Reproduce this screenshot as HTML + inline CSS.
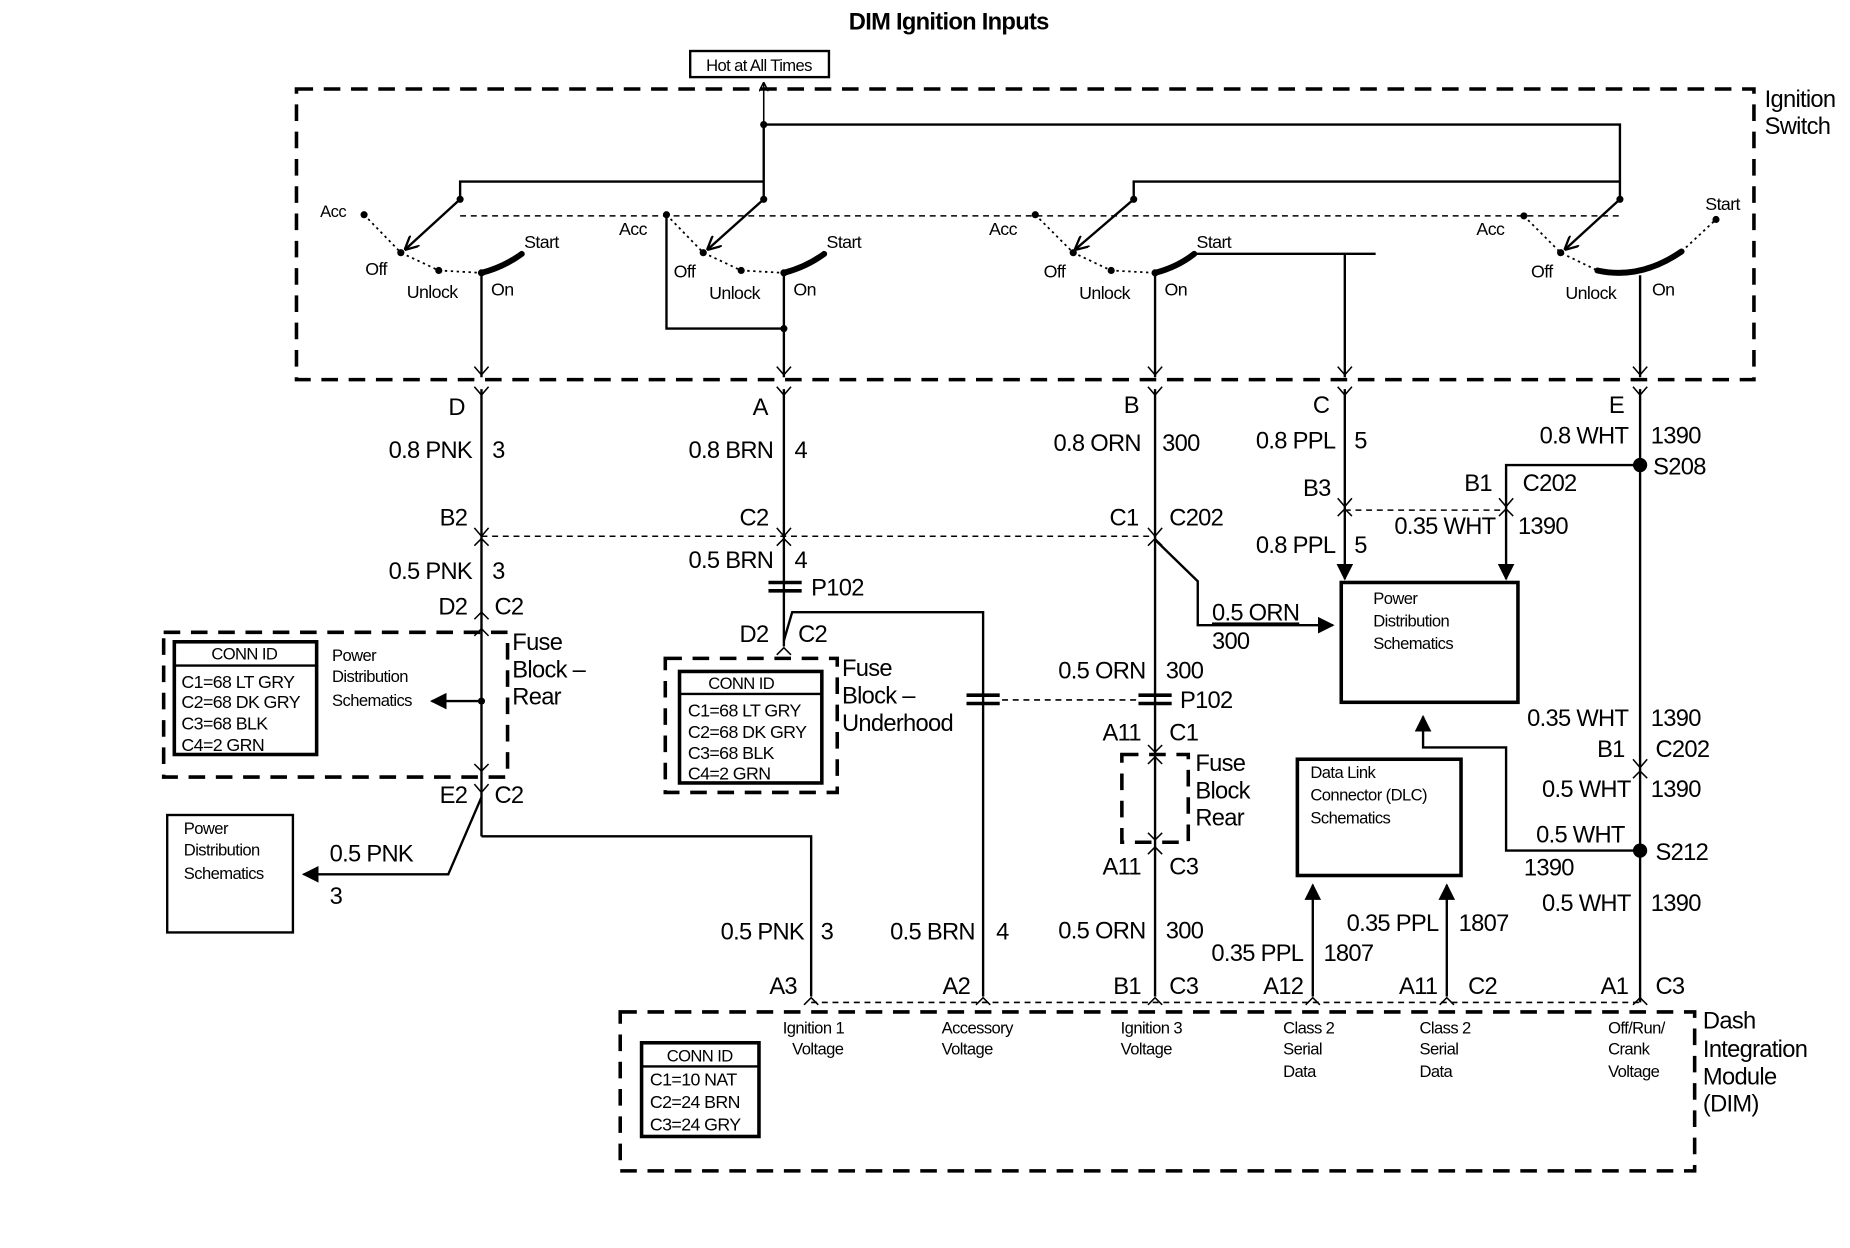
<!DOCTYPE html>
<html><head><meta charset="utf-8"><style>
html,body{margin:0;padding:0;background:#fff}
svg{display:block}
text{font-family:"Liberation Sans",Arial,sans-serif;fill:#000}
.l{font-size:20px;letter-spacing:-0.6px}
.s{font-size:14px;letter-spacing:-0.5px}
.m{font-size:15px;letter-spacing:-0.5px}
.w{stroke:#000;stroke-width:2;fill:none}
.t{stroke:#000;stroke-width:1.3;fill:none}
.dbox{stroke:#000;stroke-width:3;fill:none;stroke-dasharray:14 9}
.dl{stroke:#000;stroke-width:1.3;fill:none;stroke-dasharray:5 4}
.dot{stroke:#000;stroke-width:1.5;fill:none;stroke-dasharray:2 3}
</style></head><body>
<svg width="1850" height="1248" viewBox="0 0 1560 1052" preserveAspectRatio="none" xmlns="http://www.w3.org/2000/svg">
<defs>
<marker id="fa" viewBox="0 0 10 10" refX="9" refY="5" markerWidth="7" markerHeight="7" orient="auto-start-reverse"><path d="M0,0 L10,5 L0,10 z" fill="#000"/></marker>
<marker id="oa" viewBox="0 0 10 10" refX="9" refY="5" markerWidth="6" markerHeight="6" orient="auto-start-reverse"><path d="M0,0 L10,5 L0,10" fill="none" stroke="#000" stroke-width="1.6"/></marker>
</defs>
<text x="800" y="25" text-anchor="middle" style="font-size:20px;font-weight:bold;letter-spacing:-0.6px">DIM Ignition Inputs</text>
<rect x="582" y="43" width="117" height="22" class="w"/>
<text x="640" y="60" text-anchor="middle" class="s">Hot at All Times</text>
<line x1="644" y1="105" x2="644" y2="70" class="t" marker-end="url(#oa)"/>

<rect x="250" y="75" width="1229" height="245" class="dbox"/>
<text x="1488" y="90" class="l">Ignition</text><text x="1488" y="113" class="l">Switch</text>

<path d="M644,105 H1366 V168 M388,168 V153 H644 V168 M956,168 V153 H1366 M644,105 V168" class="w"/>
<g fill="#000"><circle cx="644" cy="105" r="3"/><circle cx="388" cy="168" r="3"/><circle cx="644" cy="168" r="3"/><circle cx="956" cy="168" r="3"/><circle cx="1366" cy="168" r="3"/><circle cx="661" cy="277" r="3"/></g>
<line x1="388" y1="168" x2="342" y2="210" class="w" marker-end="url(#oa)"/>
<line x1="644" y1="168" x2="597" y2="210" class="w" marker-end="url(#oa)"/>
<line x1="956" y1="168" x2="907" y2="210" class="w" marker-end="url(#oa)"/>
<line x1="1366" y1="168" x2="1320" y2="210" class="w" marker-end="url(#oa)"/>
<line x1="388" y1="182" x2="1366" y2="182" class="dl"/>

<!-- switch 1 -->
<path d="M307,181 L338,213 L370,228 L406,230" class="dot"/>
<path d="M406,230 Q425,225 440,214" stroke="#000" stroke-width="5" fill="none" stroke-linecap="round"/>
<g fill="#000"><circle cx="307" cy="181" r="3"/><circle cx="338" cy="213" r="3"/><circle cx="370" cy="228" r="3"/><circle cx="406" cy="230" r="3"/></g>
<text x="270" y="183" class="s">Acc</text><text x="308" y="232" class="m">Off</text><text x="343" y="251" class="m">Unlock</text><text x="414" y="249" class="m">On</text><text x="442" y="209" class="m">Start</text>
<!-- switch 2 -->
<path d="M562,181 L593,213 L625,228 L661,230" class="dot"/>
<path d="M661,230 Q680,225 695,214" stroke="#000" stroke-width="5" fill="none" stroke-linecap="round"/>
<g fill="#000"><circle cx="562" cy="181" r="3"/><circle cx="593" cy="213" r="3"/><circle cx="625" cy="228" r="3"/><circle cx="661" cy="230" r="3"/></g>
<text x="522" y="198" class="m">Acc</text><text x="568" y="234" class="m">Off</text><text x="598" y="252" class="m">Unlock</text><text x="669" y="249" class="m">On</text><text x="697" y="209" class="m">Start</text>
<path d="M562,181 V277 H661" class="w"/>
<!-- switch 3 -->
<path d="M873,181 L905,213 L937,228 L974,230" class="dot"/>
<path d="M974,230 Q993,225 1007,214" stroke="#000" stroke-width="5" fill="none" stroke-linecap="round"/>
<g fill="#000"><circle cx="873" cy="181" r="3"/><circle cx="905" cy="213" r="3"/><circle cx="937" cy="228" r="3"/><circle cx="974" cy="230" r="3"/></g>
<text x="834" y="198" class="m">Acc</text><text x="880" y="234" class="m">Off</text><text x="910" y="252" class="m">Unlock</text><text x="982" y="249" class="m">On</text><text x="1009" y="209" class="m">Start</text>
<path d="M1007,214 H1160 M1134,214 V318" class="w"/>
<!-- switch 4 -->
<path d="M1285,182 L1316,213 L1347,228" class="dot"/>
<path d="M1418,212 L1447,185" class="dot"/>
<path d="M1347,228 Q1383,236 1418,212" stroke="#000" stroke-width="5" fill="none" stroke-linecap="round"/>
<g fill="#000"><circle cx="1285" cy="182" r="3"/><circle cx="1316" cy="213" r="3"/><circle cx="1447" cy="185" r="3"/></g>
<text x="1245" y="198" class="m">Acc</text><text x="1291" y="234" class="m">Off</text><text x="1320" y="252" class="m">Unlock</text><text x="1393" y="249" class="m">On</text><text x="1438" y="177" class="m">Start</text>

<!-- drops -->
<g class="w">
<line x1="406" y1="230" x2="406" y2="318"/><line x1="661" y1="230" x2="661" y2="318"/><line x1="974" y1="230" x2="974" y2="318"/><line x1="1383" y1="232" x2="1383" y2="318"/>
</g>
<!-- connector chevrons at switch exit -->
<g class="t">
<path d="M400,309 L406,316 L412,309 M400,326 L406,333 L412,326"/>
<path d="M655,309 L661,316 L667,309 M655,326 L661,333 L667,326"/>
<path d="M968,309 L974,316 L980,309 M968,326 L974,333 L980,326"/>
<path d="M1128,309 L1134,316 L1140,309 M1128,326 L1134,333 L1140,326"/>
<path d="M1377,309 L1383,316 L1389,309 M1377,326 L1383,333 L1389,326"/>
</g>
<text x="385" y="350" text-anchor="middle" class="l">D</text>
<text x="641" y="350" text-anchor="middle" class="l">A</text>
<text x="954" y="348" text-anchor="middle" class="l">B</text>
<text x="1114" y="348" text-anchor="middle" class="l">C</text>
<text x="1363" y="348" text-anchor="middle" class="l">E</text>

<!-- column D (406) -->
<line x1="406" y1="328" x2="406" y2="705" class="w"/>
<path d="M406,705 H684 V840" class="w"/>
<text x="398" y="386" text-anchor="end" class="l">0.8 PNK</text><text x="415" y="386" class="l">3</text>
<text x="394" y="443" text-anchor="end" class="l">B2</text>
<path d="M400,445 L406,452 L412,445 M400,460 L406,454 L412,460" class="t"/>
<line x1="406" y1="452" x2="974" y2="452" class="dl"/>
<text x="398" y="488" text-anchor="end" class="l">0.5 PNK</text><text x="415" y="488" class="l">3</text>
<text x="394" y="518" text-anchor="end" class="l">D2</text><text x="417" y="518" class="l">C2</text>
<path d="M400,522 L406,516 L412,522" class="t"/>
<rect x="138" y="533" width="290" height="122" class="dbox"/>
<rect x="147" y="541" width="120" height="95" stroke="#000" stroke-width="3" fill="none"/>
<line x1="147" y1="561" x2="267" y2="561" class="w"/>
<text x="206" y="556" text-anchor="middle" class="s">CONN ID</text>
<text x="153" y="580" class="m">C1=68 LT GRY</text><text x="153" y="597" class="m">C2=68 DK GRY</text><text x="153" y="615" class="m">C3=68 BLK</text><text x="153" y="633" class="m">C4=2 GRN</text>
<text x="280" y="557" class="s">Power</text><text x="280" y="575" class="s">Distribution</text><text x="280" y="595" class="s">Schematics</text>
<line x1="406" y1="591" x2="364" y2="591" class="w" marker-end="url(#fa)"/>
<circle cx="406" cy="591" r="3" fill="#000"/>
<path d="M400,536 L406,530 L412,536 M400,644 L406,650 L412,644" class="t"/>
<text x="432" y="548" class="l">Fuse</text><text x="432" y="571" class="l">Block –</text><text x="432" y="594" class="l">Rear</text>
<text x="394" y="677" text-anchor="end" class="l">E2</text><text x="417" y="677" class="l">C2</text>
<path d="M400,661 L406,668 L412,661" class="t"/>
<path d="M406,672 L378,737 H256" class="w" marker-end="url(#fa)"/>
<text x="278" y="726" class="l">0.5 PNK</text><text x="278" y="762" class="l">3</text>
<rect x="141" y="687" width="106" height="99" class="w"/>
<text x="155" y="703" class="s">Power</text><text x="155" y="721" class="s">Distribution</text><text x="155" y="741" class="s">Schematics</text>
<text x="678" y="792" text-anchor="end" class="l">0.5 PNK</text><text x="692" y="792" class="l">3</text>
<text x="672" y="838" text-anchor="end" class="l">A3</text>

<!-- column A (661) -->
<line x1="661" y1="328" x2="661" y2="545" class="w"/>
<text x="652" y="386" text-anchor="end" class="l">0.8 BRN</text><text x="670" y="386" class="l">4</text>
<text x="648" y="443" text-anchor="end" class="l">C2</text>
<path d="M655,445 L661,452 L667,445 M655,460 L661,454 L667,460" class="t"/>
<text x="652" y="479" text-anchor="end" class="l">0.5 BRN</text><text x="670" y="479" class="l">4</text>
<path d="M648,491 H676 M648,498 H676" stroke="#000" stroke-width="3"/>
<text x="684" y="502" class="l">P102</text>
<text x="648" y="541" text-anchor="end" class="l">D2</text><text x="673" y="541" class="l">C2</text>
<path d="M655,552 L661,546 L667,552" class="t"/>
<path d="M661,540 L668,516 H829 V840" class="w"/>
<rect x="561" y="555" width="145" height="113" class="dbox"/>
<rect x="573" y="566" width="120" height="94" stroke="#000" stroke-width="3" fill="none"/>
<line x1="573" y1="585" x2="693" y2="585" class="w"/>
<text x="625" y="581" text-anchor="middle" class="s">CONN ID</text>
<text x="580" y="604" class="m">C1=68 LT GRY</text><text x="580" y="622" class="m">C2=68 DK GRY</text><text x="580" y="640" class="m">C3=68 BLK</text><text x="580" y="657" class="m">C4=2 GRN</text>
<text x="710" y="570" class="l">Fuse</text><text x="710" y="593" class="l">Block –</text><text x="710" y="616" class="l">Underhood</text>
<path d="M815,586 H843 M815,593 H843" stroke="#000" stroke-width="3"/>
<line x1="845" y1="590" x2="960" y2="590" class="dl"/>
<text x="822" y="792" text-anchor="end" class="l">0.5 BRN</text><text x="840" y="792" class="l">4</text>
<text x="818" y="838" text-anchor="end" class="l">A2</text>

<!-- column B (974) -->
<line x1="974" y1="328" x2="974" y2="840" class="w"/>
<text x="962" y="380" text-anchor="end" class="l">0.8 ORN</text><text x="980" y="380" class="l">300</text>
<text x="960" y="443" text-anchor="end" class="l">C1</text><text x="986" y="443" class="l">C202</text>
<path d="M968,445 L974,452 L980,445 M968,460 L974,454 L980,460" class="t"/>
<path d="M974,455 L1010,490 V527 H1124" class="w" marker-end="url(#fa)"/>
<text x="1022" y="523" class="l" text-decoration="underline">0.5 ORN</text><text x="1022" y="547" class="l">300</text>
<text x="966" y="572" text-anchor="end" class="l">0.5 ORN</text><text x="983" y="572" class="l">300</text>
<path d="M960,586 H988 M960,593 H988" stroke="#000" stroke-width="3"/>
<text x="995" y="597" class="l">P102</text>
<text x="962" y="624" text-anchor="end" class="l">A11</text><text x="986" y="624" class="l">C1</text>
<path d="M968,628 L974,634 L980,628" class="t"/>
<rect x="946" y="636" width="56" height="74" class="dbox"/>
<path d="M968,644 L974,638 L980,644 M968,702 L974,708 L980,702" class="t"/>
<text x="1008" y="650" class="l">Fuse</text><text x="1008" y="673" class="l">Block</text><text x="1008" y="696" class="l">Rear</text>
<path d="M968,720 L974,714 L980,720" class="t"/>
<text x="962" y="737" text-anchor="end" class="l">A11</text><text x="986" y="737" class="l">C3</text>
<text x="966" y="791" text-anchor="end" class="l">0.5 ORN</text><text x="983" y="791" class="l">300</text>
<text x="962" y="838" text-anchor="end" class="l">B1</text><text x="986" y="838" class="l">C3</text>

<!-- column C (1134) -->
<line x1="1134" y1="328" x2="1134" y2="488" class="w" marker-end="url(#fa)"/>
<text x="1126" y="378" text-anchor="end" class="l">0.8 PPL</text><text x="1142" y="378" class="l">5</text>
<text x="1122" y="418" text-anchor="end" class="l">B3</text>
<path d="M1128,420 L1134,427 L1140,420 M1128,435 L1134,429 L1140,435" class="t"/>
<line x1="1134" y1="430" x2="1270" y2="430" class="dl"/>
<text x="1126" y="466" text-anchor="end" class="l">0.8 PPL</text><text x="1142" y="466" class="l">5</text>
<rect x="1131" y="491" width="149" height="101" stroke="#000" stroke-width="3" fill="none"/>
<text x="1158" y="509" class="s">Power</text><text x="1158" y="528" class="s">Distribution</text><text x="1158" y="547" class="s">Schematics</text>

<!-- column E (1383) -->
<line x1="1383" y1="328" x2="1383" y2="845" class="w"/>
<text x="1373" y="374" text-anchor="end" class="l">0.8 WHT</text><text x="1392" y="374" class="l">1390</text>
<circle cx="1383" cy="392" r="6" fill="#000"/>
<text x="1394" y="400" class="l">S208</text>
<path d="M1383,392 H1270 V488" class="w" marker-end="url(#fa)"/>
<text x="1258" y="414" text-anchor="end" class="l">B1</text><text x="1284" y="414" class="l">C202</text>
<path d="M1264,420 L1270,427 L1276,420 M1264,435 L1270,429 L1276,435" class="t"/>
<text x="1261" y="450" text-anchor="end" class="l">0.35 WHT</text><text x="1280" y="450" class="l">1390</text>
<text x="1373" y="612" text-anchor="end" class="l">0.35 WHT</text><text x="1392" y="612" class="l">1390</text>
<text x="1370" y="638" text-anchor="end" class="l">B1</text><text x="1396" y="638" class="l">C202</text>
<path d="M1377,640 L1383,647 L1389,640 M1377,656 L1383,650 L1389,656" class="t"/>
<text x="1375" y="672" text-anchor="end" class="l">0.5 WHT</text><text x="1392" y="672" class="l">1390</text>
<circle cx="1383" cy="717" r="6" fill="#000"/>
<text x="1396" y="725" class="l">S212</text>
<path d="M1383,717 H1270 V630 H1200 V604" class="w" marker-end="url(#fa)"/>
<text x="1370" y="710" text-anchor="end" class="l">0.5 WHT</text><text x="1285" y="738" class="l">1390</text>
<text x="1375" y="768" text-anchor="end" class="l">0.5 WHT</text><text x="1392" y="768" class="l">1390</text>
<text x="1373" y="838" text-anchor="end" class="l">A1</text><text x="1396" y="838" class="l">C3</text>

<!-- DLC -->
<rect x="1094" y="640" width="138" height="98" stroke="#000" stroke-width="3" fill="none"/>
<text x="1105" y="656" class="s">Data Link</text><text x="1105" y="675" class="s">Connector (DLC)</text><text x="1105" y="694" class="s">Schematics</text>
<line x1="1107" y1="840" x2="1107" y2="746" class="w" marker-end="url(#fa)"/>
<line x1="1220" y1="840" x2="1220" y2="746" class="w" marker-end="url(#fa)"/>
<text x="1213" y="785" text-anchor="end" class="l">0.35 PPL</text><text x="1230" y="785" class="l">1807</text>
<text x="1099" y="810" text-anchor="end" class="l">0.35 PPL</text><text x="1116" y="810" class="l">1807</text>
<text x="1099" y="838" text-anchor="end" class="l">A12</text>
<text x="1212" y="838" text-anchor="end" class="l">A11</text><text x="1238" y="838" class="l">C2</text>

<!-- DIM -->
<g class="t">
<path d="M678,847 L684,841 L690,847"/><path d="M823,847 L829,841 L835,847"/><path d="M968,847 L974,841 L980,847"/><path d="M1101,847 L1107,841 L1113,847"/><path d="M1214,847 L1220,841 L1226,847"/><path d="M1377,847 L1383,841 L1389,847"/>
</g>
<line x1="684" y1="845" x2="1383" y2="845" class="dl"/>
<rect x="523" y="853" width="906" height="134" class="dbox"/>
<rect x="541" y="879" width="99" height="79" stroke="#000" stroke-width="3" fill="none"/>
<line x1="541" y1="899" x2="640" y2="899" class="w"/>
<text x="590" y="895" text-anchor="middle" class="s">CONN ID</text>
<text x="548" y="915" class="m">C1=10 NAT</text><text x="548" y="934" class="m">C2=24 BRN</text><text x="548" y="953" class="m">C3=24 GRY</text>
<text x="660" y="871" class="s">Ignition 1</text><text x="668" y="889" class="s">Voltage</text>
<text x="794" y="871" class="s">Accessory</text><text x="794" y="889" class="s">Voltage</text>
<text x="945" y="871" class="s">Ignition 3</text><text x="945" y="889" class="s">Voltage</text>
<text x="1082" y="871" class="s">Class 2</text><text x="1082" y="889" class="s">Serial</text><text x="1082" y="908" class="s">Data</text>
<text x="1197" y="871" class="s">Class 2</text><text x="1197" y="889" class="s">Serial</text><text x="1197" y="908" class="s">Data</text>
<text x="1356" y="871" class="s">Off/Run/</text><text x="1356" y="889" class="s">Crank</text><text x="1356" y="908" class="s">Voltage</text>
<text x="1436" y="867" class="l">Dash</text><text x="1436" y="891" class="l">Integration</text><text x="1436" y="914" class="l">Module</text><text x="1436" y="937" class="l">(DIM)</text>
</svg>
</body></html>
